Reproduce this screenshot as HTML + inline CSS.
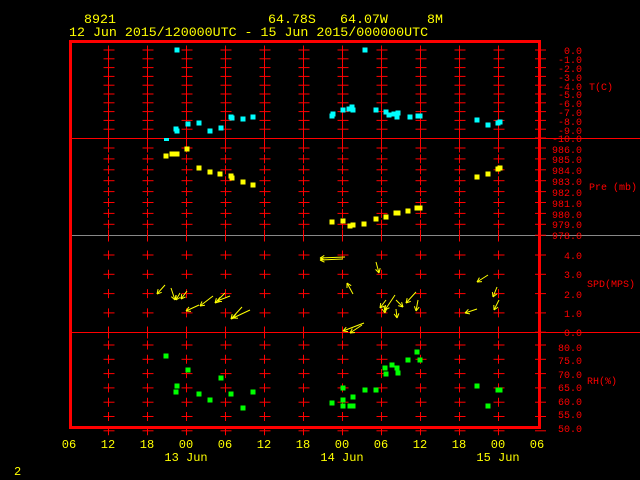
<!DOCTYPE html>
<html><head><meta charset="utf-8"><style>
html,body{margin:0;padding:0;background:#000;width:640px;height:480px;overflow:hidden}
svg text{font-family:"Liberation Mono","DejaVu Sans Mono",monospace;font-size:12px}
.top text{font-size:13.3px}
.rl text{font-size:10px}
</style></head><body>
<svg width="640" height="480" xmlns="http://www.w3.org/2000/svg">
<rect width="640" height="480" fill="#000"/>
<g fill="#ffff00">
<g class="top">
<text x="84" y="23">8921</text>
<text x="268" y="23">64.78S</text>
<text x="340" y="23">64.07W</text>
<text x="427" y="23">8M</text>
<text x="69" y="36">12 Jun 2015/120000UTC - 15 Jun 2015/000000UTC</text>
</g>
<g text-anchor="middle">
<text x="69" y="448">06</text><text x="108" y="448">12</text><text x="147" y="448">18</text><text x="186" y="448">00</text><text x="225" y="448">06</text><text x="264" y="448">12</text><text x="303" y="448">18</text><text x="342" y="448">00</text><text x="381" y="448">06</text><text x="420" y="448">12</text><text x="459" y="448">18</text><text x="498" y="448">00</text><text x="537" y="448">06</text>
<text x="186" y="461">13 Jun</text><text x="342" y="461">14 Jun</text><text x="498" y="461">15 Jun</text>
</g>
<text x="14" y="475">2</text>
</g>
<g id="grid" stroke="#ff0000" stroke-width="1">
<line x1="70" y1="138.5" x2="640" y2="138.5"/>
<line x1="70" y1="235.5" x2="640" y2="235.5" stroke="#888"/>
<line x1="70" y1="332.5" x2="640" y2="332.5"/>
</g>
<g id="crosses" stroke="#ff0000" stroke-width="1"></g>
<rect x="70.5" y="41.5" width="469" height="386" fill="none" stroke="#ff0000" stroke-width="3"/>
<g id="rticks" stroke="#ff0000" stroke-width="1"></g>
<g fill="#ff0000" text-anchor="end" class="rl">
<text x="582" y="54">0.0</text><text x="582" y="63">-1.0</text><text x="582" y="72">-2.0</text><text x="582" y="81">-3.0</text><text x="582" y="90">-4.0</text><text x="582" y="98">-5.0</text><text x="582" y="107">-6.0</text><text x="582" y="116">-7.0</text><text x="582" y="125">-8.0</text><text x="582" y="134">-9.0</text><text x="582" y="142">-10.0</text>
<text x="582" y="153">986.0</text><text x="582" y="163">985.0</text><text x="582" y="174">984.0</text><text x="582" y="185">983.0</text><text x="582" y="196">982.0</text><text x="582" y="207">981.0</text><text x="582" y="218">980.0</text><text x="582" y="228">979.0</text><text x="582" y="239">978.0</text>
<text x="582" y="259">4.0</text><text x="582" y="278">3.0</text><text x="582" y="298">2.0</text><text x="582" y="317">1.0</text><text x="582" y="336">0.0</text>
<text x="582" y="351">80.0</text><text x="582" y="364">75.0</text><text x="582" y="378">70.0</text><text x="582" y="391">65.0</text><text x="582" y="405">60.0</text><text x="582" y="418">55.0</text><text x="582" y="432">50.0</text>
</g>
<g fill="#ff0000" class="rl">
<text x="589" y="90">T(C)</text>
<text x="589" y="190">Pre (mb)</text>
<text x="587" y="287">SPD(MPS)</text>
<text x="587" y="384">RH(%)</text>
</g>
<g id="pts"></g>
<g id="wind" stroke="#ffff00" stroke-width="1" fill="none"></g>
<script>
var ns="http://www.w3.org/2000/svg";
function el(p,t,a){var e=document.createElementNS(ns,t);for(var k in a)e.setAttribute(k,a[k]);document.getElementById(p).appendChild(e);}
var ys=[];
for(var i=0;i<=10;i++)ys.push(50+i*8.8);
for(var i=0;i<=8;i++)ys.push(148+i*10.9);
for(var i=0;i<=4;i++)ys.push(255+i*19.3);
for(var i=0;i<=6;i++)ys.push(345+i*14.3);
var inner=[];
for(var i=1;i<10;i++)inner.push(50+i*8.8);
for(var i=1;i<8;i++)inner.push(148+i*10.9);
for(var i=1;i<4;i++)inner.push(255+i*19.3);
inner.push(255);
for(var i=0;i<=6;i++)inner.push(345+i*14.3);
inner.push(50);inner.push(148);
for(var c=0;c<11;c++){var x=108.5+c*39;
 inner.forEach(function(y){el("crosses","line",{x1:x-5,y1:y,x2:x+6,y2:y});el("crosses","line",{x1:x,y1:y-4.5,x2:x,y2:y+4.5});});
 [138.5,235.5,332.5].forEach(function(y){el("crosses","line",{x1:x,y1:y-6,x2:x,y2:y+6});});
}
ys.forEach(function(y){el("rticks","line",{x1:535,y1:y,x2:546,y2:y});});
function P(c,a){a.forEach(function(p){el("pts","rect",{x:p[0]-2.5,y:p[1]-2.5,width:5,height:5,fill:c});});}
P("#00ffff",[[177,50],[365,50],[176,129],[177,131],[188,124],[199,123],[210,131],[221,128],[231,117],[232,118],[243,119],[253,117],[332,116],[333,114],[343,110],[349,109],[353,110],[352,107],[376,110],[386,112],[389,115],[394,114],[397,117],[398,113],[410,117],[418,116],[420,116],[477,120],[488,125],[498,123],[500,122]]);
el("pts","rect",{x:164,y:138,width:5,height:3,fill:"#00ffff"});
P("#ffff00",[[166,156],[172,154],[177,154],[187,149],[199,168],[210,172],[220,174],[231,176],[232,178],[243,182],[253,185],[332,222],[343,221],[350,226],[353,225],[364,224],[376,219],[386,217],[396,213],[398,213],[408,211],[417,208],[420,208],[477,177],[488,174],[498,169],[500,168]]);
P("#00ff00",[[166,356],[177,386],[176,392],[188,370],[199,394],[210,400],[221,378],[231,394],[243,408],[253,392],[332,403],[343,388],[343,406],[343,400],[350,406],[353,406],[353,397],[365,390],[376,390],[385,368],[386,374],[392,365],[397,368],[398,373],[408,360],[417,352],[420,360],[477,386],[488,406],[498,390],[500,390]]);
function A(x1,y1,x2,y2){el("wind","line",{x1:x1,y1:y1,x2:x2,y2:y2});var a=Math.atan2(y2-y1,x2-x1),L=5;
 [0.5,-0.5].forEach(function(d){el("wind","line",{x1:x2,y1:y2,x2:x2-L*Math.cos(a+d),y2:y2-L*Math.sin(a+d)});});}
[[165,285,157,294],[171,288,175,300],[180,293,176,300],[187,291,181,299],[199,305,186,311],[213,296,200,306],[225,293,215,303],[230,296,217,301],[250,310,233,318],[242,307,231,319],
[345,257,320,258],[343,259,320,260],[376,262,379,273],[353,294,347,283],[364,323,343,331],[362,325,350,333],[386,300,380,308],[395,295,385,310],[384,306,385,313],[396,300,403,307],[416,292,406,303],[418,300,416,311],[396,309,397,318],[488,275,477,282],[497,287,493,297],[499,300,494,310],[477,309,465,313]].forEach(function(a){A(a[0],a[1],a[2],a[3]);});
</script>
</svg>
</body></html>
